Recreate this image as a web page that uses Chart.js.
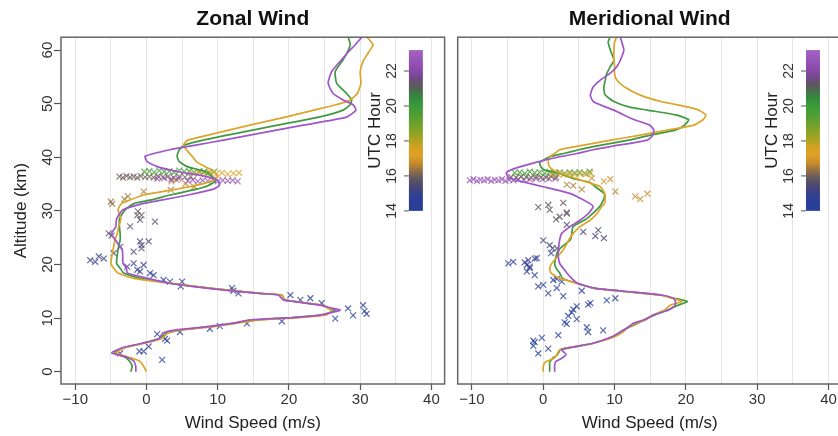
<!DOCTYPE html>
<html>
<head>
<meta charset="utf-8">
<script src="https://cdn.jsdelivr.net/npm/chart.js@4.4.1/dist/chart.umd.min.js"></script>
<style>
  html, body { margin: 0; padding: 0; background: #fff; overflow: hidden; }
  #wrap { position: relative; width: 838px; height: 436px; overflow: hidden; }
  canvas { position: absolute; top: 0; }
  #zonalChart { left: 0; }
  #meridChart { left: 450px; }
</style>
</head>
<body>
<div id="wrap">
  <canvas id="zonalChart" width="450" height="436"></canvas>
  <canvas id="meridChart" width="400" height="436"></canvas>
</div>
<script>
// axis ticks
const xTicks = [-10, -5, 0, 5, 10, 15, 20, 25, 30, 35, 40];
const yTicks = [0, 10, 20, 30, 40, 50, 60];
const hourTicks = [14, 16, 18, 20, 22];

// zonal wind profiles (altitude km -> wind m/s)
const zonalAlt = [0, 1, 2, 2.7, 3.5, 4.5, 5.3, 6.2, 7.2, 7.8, 8.4, 9.0, 9.65, 10.1, 10.6, 11.2, 11.5, 11.8, 12.4, 13.1, 13.4, 14.3, 14.6, 15.2, 15.9, 16.5, 17.4, 18.4, 19.3, 20.2, 22.7, 24.6, 25.8, 27.1, 28.5, 30.2, 31.4, 32.0, 33.0, 34.0, 34.7, 35.6, 36.4, 37.3, 38.2, 39.2, 40.2, 41.4, 42.3, 43.2, 44.5, 46.0, 47.5, 48.8, 49.8, 50.7, 51.9, 53.8, 56.0, 58.2, 59.6, 61.0, 62.5];
const zonalGreen = [-2.2, -2.0, -2.4, -3.0, -4.5, -3.0, -0.5, 1.8, 2.8, 5.0, 9.0, 12.0, 15.5, 20.5, 24.8, 26.0, 26.5, 25.8, 24.6, 20.8, 19.4, 19.0, 16.1, 11.4, 6.7, 3.4, -0.8, -3.2, -3.7, -4.2, -4.0, -3.7, -3.7, -3.8, -3.8, -3.0, -1.7, 0.5, 3.5, 6.9, 8.6, 9.7, 9.2, 8.3, 5.8, 4.6, 4.3, 4.6, 5.4, 8.0, 12.8, 18.4, 24.2, 27.6, 28.6, 28.8, 28.1, 26.7, 26.5, 27.6, 28.2, 28.6, 28.3];
const zonalGold = [0.0, -0.4, -1.0, -2.5, -4.3, -3.0, -0.3, 2.2, 3.0, 5.0, 9.4, 12.5, 16.0, 21.5, 25.3, 25.8, 26.0, 25.5, 24.6, 20.8, 19.4, 19.0, 16.1, 11.6, 6.9, 3.4, -1.8, -4.0, -4.6, -5.0, -4.7, -4.4, -4.1, -3.9, -3.6, -4.0, -3.5, -2.4, -0.3, 4.0, 6.8, 9.2, 10.0, 9.5, 8.3, 7.0, 6.4, 5.6, 5.2, 5.8, 9.8, 14.5, 19.5, 23.5, 26.6, 28.6, 29.6, 30.1, 30.0, 30.5, 31.2, 31.8, 30.9];
const zonalPurple = [-1.5, -1.5, -1.8, -2.8, -4.9, -3.3, -0.6, 1.8, 2.3, 4.2, 8.6, 12.0, 14.5, 20.5, 24.5, 26.5, 27.2, 26.2, 24.4, 20.6, 19.2, 18.5, 15.8, 11.0, 6.4, 3.2, 0.2, -2.7, -2.8, -3.3, -3.4, -4.4, -4.9, -4.3, -4.2, -3.3, -0.4, 2.1, 6.0, 9.3, 10.2, 10.1, 8.4, 4.5, 1.6, 0.1, -0.2, 3.3, 7.1, 10.8, 16.0, 22.0, 28.1, 29.4, 29.0, 27.6, 26.2, 25.5, 26.0, 27.4, 28.3, 29.3, 30.3];

// meridional wind profiles
const meridAlt = [0, 1.0, 1.8, 2.5, 3.2, 4.1, 4.6, 5.3, 6.5, 7.4, 8.1, 9.0, 9.65, 10.6, 11.5, 12.4, 13.1, 13.7, 14.3, 15.0, 15.6, 16.5, 17.4, 18.4, 19.3, 20.2, 21.5, 22.7, 24.6, 25.8, 27.1, 28.3, 29.6, 30.8, 31.4, 32.7, 33.3, 34.5, 35.3, 36.1, 37.0, 37.6, 38.2, 39.0, 40.1, 40.7, 41.4, 42.0, 43.2, 44.0, 45.1, 46.0, 47.0, 47.9, 48.8, 49.4, 50.4, 51.6, 53.1, 54.4, 55.6, 56.9, 58.1, 60.0, 61.5, 62.5];
const meridGreen = [0.9, 0.9, 0.9, 1.3, 2.0, 2.4, 4.2, 7.0, 9.9, 10.8, 11.7, 13.2, 14.1, 15.7, 17.4, 18.9, 20.2, 18.3, 16.4, 11.0, 7.0, 4.7, 2.7, 2.3, 1.8, 1.6, 1.8, 2.1, 3.8, 4.0, 4.2, 5.8, 7.0, 7.9, 8.2, 8.6, 8.5, 7.3, 6.5, 4.0, 2.4, 0.2, -0.3, -0.5, 0.9, 2.9, 5.0, 7.0, 12.0, 14.6, 18.6, 19.8, 20.4, 18.6, 14.6, 12.0, 9.9, 8.7, 8.5, 8.7, 8.9, 9.4, 9.9, 9.4, 9.1, 9.4];
const meridGold = [0.0, 0.0, 0.3, 1.5, 1.9, 2.3, 4.0, 7.0, 9.9, 11.2, 11.7, 13.0, 14.3, 15.5, 17.0, 17.8, 19.5, 18.0, 16.4, 11.0, 7.0, 4.7, 2.3, 1.1, 0.9, 1.2, 2.0, 2.8, 3.6, 4.2, 5.2, 6.6, 7.6, 8.2, 8.6, 8.7, 8.6, 8.0, 6.3, 4.4, 2.6, 1.4, 0.9, 0.7, 0.9, 1.6, 2.3, 4.5, 9.5, 13.0, 17.6, 21.1, 22.4, 22.8, 21.8, 20.2, 16.5, 13.6, 11.4, 10.3, 10.0, 10.0, 9.9, 9.9, 10.0, 10.3];
const meridPurple = [1.6, 1.6, 1.7, 2.6, 3.2, 2.6, 4.3, 7.0, 9.6, 10.8, 11.7, 12.6, 14.1, 15.5, 17.6, 18.5, 18.5, 18.3, 16.6, 11.5, 7.2, 4.8, 4.0, 3.3, 2.8, 2.3, 2.1, 2.1, 2.3, 2.6, 3.8, 5.2, 6.4, 7.0, 6.5, 4.7, 3.6, 0.0, -2.5, -4.7, -5.2, -4.6, -3.3, -1.2, 2.3, 4.7, 7.0, 9.4, 14.6, 15.3, 15.5, 14.9, 12.8, 11.3, 9.9, 8.7, 7.0, 6.6, 7.0, 8.0, 9.3, 10.3, 10.8, 11.3, 11.0, 10.8];

// zonal observations: wind, altitude, UTC hour
const zonalObsWind = [
  2.2, -3.7, -1.0, -0.4, 0.3, 2.9, 2.6, 1.5, 4.7, 8.9, 10.3, 14.1, 19.0, 26.5, 29.0, 30.9, 30.6, 30.4, 28.3, 24.6, 23.0, 21.6, 20.2, 12.9, 12.2, 12.0,
  4.8, 5.0, 3.3, 2.4, 1.0, 0.5, -0.9, -1.3, -1.8, -0.4, -2.7,
  -7.9, -7.2, -6.7, -6.0, -4.6, -3.7, -1.8, -0.7, -0.9, 0.3, -0.7,
  -5.3, -4.9, -2.3, 1.2, -1.3, -0.9, -1.2, -0.7,
  -5.0, -4.8, -3.1, -2.6, -0.4, 3.4, 6.7, 3.5, 4.2, 5.5,
  -3.8, -3.3, -2.8, -2.3, -1.8, -1.3, -0.8, -0.2, 0.4, 1.0, 1.6, 2.3, 3.0, 3.8, 4.6, 5.4, 6.2,
  -0.3, 0.4, 1.1, 1.8, 2.5, 3.2, 3.9, 4.6, 5.3, 6.0, 6.7, 7.4, 8.1, 8.8, 9.5,
  6.6, 7.4, 8.2, 9.0, 9.8, 10.6, 11.4, 12.2, 13.0,
  1.5, 2.5, 3.5, 4.5, 5.8, 6.5, 7.2, 7.9, 8.6, 9.3, 10.0, 10.7, 11.4, 12.1, 12.8
];
const zonalObsAlt = [
  2.2, 3.4, 3.8, 3.8, 4.7, 5.8, 6.1, 7.0, 7.4, 8.0, 8.5, 9.0, 9.4, 9.9, 10.5, 10.8, 11.3, 12.4, 11.8, 12.8, 13.7, 13.4, 14.3, 14.6, 15.1, 15.6,
  15.9, 16.8, 16.8, 17.1, 18.0, 18.4, 18.7, 19.0, 20.2, 19.9, 19.6,
  20.8, 20.5, 21.5, 21.1, 22.1, 23.3, 22.4, 23.0, 24.3, 24.3, 23.6,
  25.8, 25.4, 27.1, 28.0, 29.2, 28.3, 29.9, 29.2,
  31.7, 31.3, 32.2, 32.7, 33.6, 33.9, 34.5, 35.5, 35.8, 35.1,
  36.4, 36.2, 36.5, 36.3, 36.4, 36.2, 36.5, 36.3, 36.4, 36.2, 36.5, 36.3, 36.4, 36.2, 36.4, 36.3, 36.4,
  37.3, 37.4, 37.2, 37.5, 37.3, 37.4, 37.2, 37.5, 37.3, 37.4, 37.2, 37.4, 37.3, 37.2, 37.3,
  36.9, 37.1, 36.8, 37.0, 36.9, 37.1, 36.8, 37.0, 37.1,
  36.0, 36.1, 35.9, 36.0, 35.6, 35.8, 35.5, 35.7, 35.6, 35.8, 35.5, 35.7, 35.6, 35.7, 35.5
];
const zonalObsHour = [
  14.1, 14.2, 14.2, 14.1, 14.2, 14.3, 14.2, 14.3, 14.2, 14.3, 14.2, 14.3, 14.3, 14.2, 14.3, 14.2, 14.3, 14.2, 14.3, 14.2, 14.3, 14.4, 14.3, 14.4, 14.4, 14.4,
  14.5, 14.5, 14.6, 14.6, 14.7, 14.7, 14.8, 14.8, 14.9, 14.9, 14.9,
  15.1, 15.1, 15.2, 15.2, 15.3, 15.3, 15.3, 15.4, 15.4, 15.4, 15.4,
  15.6, 15.6, 15.7, 15.7, 15.8, 15.8, 15.9, 15.9,
  16.3, 16.3, 16.4, 16.4, 16.5, 16.5, 16.6, 16.6, 16.7, 16.7,
  16.0, 16.0, 16.0, 16.0, 16.0, 16.0, 16.0, 16.0, 16.0, 16.0, 16.0, 16.0, 16.0, 16.0, 16.0, 16.0, 16.0,
  19.5, 19.6, 19.7, 19.8, 19.6, 19.5, 19.7, 19.8, 19.6, 19.7, 19.5, 19.8, 19.6, 19.7, 19.6,
  17.2, 17.2, 17.2, 17.2, 17.2, 17.2, 17.2, 17.2, 17.2,
  22.4, 22.4, 22.4, 22.4, 22.6, 22.6, 22.6, 22.6, 22.6, 22.6, 22.6, 22.6, 22.6, 22.6, 22.6
];

// meridional observations: wind, altitude, UTC hour
const meridObsWind = [
  -0.7, 0.7, -1.4, -1.4, -1.2, -0.2, 2.1, 6.3, 8.4, 6.1, 3.3, 3.0, 4.7, 3.5, 4.0, 4.2, 4.7, 6.3, 6.6, 8.9, 10.1, 2.8, 0.7, 5.4, 1.9, -0.7, 0.0, 2.6, 1.4, 1.9,
  -1.2, -2.3, -1.9, -1.9, -4.9, -4.2, -2.1, -1.2, -2.3, -0.9, -2.6,
  1.1, 1.3, 0.9, 0.0, 8.5, 7.3, 7.7, 5.6, 3.3, 1.9,
  2.3, 3.3, -0.7, 0.7, 2.8, 0.9, 3.3, 1.8,
  3.3, 4.2, 5.4, 10.1, 12.9, 13.6, 14.6, 6.8, 8.5, 9.4,
  -10.3, -9.8, -9.3, -8.8, -8.3, -7.8, -7.3, -6.8, -6.3, -5.8, -5.3, -4.8, -4.2, -3.5, -2.7, -1.9, -1.0, -0.1, 0.8, 1.7,
  -4.5, -3.8, -3.1, -2.4, -1.7, -1.0, -0.3, 0.4, 1.1, 1.8,
  -4.0, -3.3, -2.6, -1.9, -1.2, -0.5, 0.2, 0.9, 1.6, 2.3, 3.0, 3.7, 4.4, 5.1, 5.8, 6.5,
  1.2, 2.0, 2.8, 3.6, 4.4, 5.2, 6.0, 6.6
];
const meridObsAlt = [
  3.4, 4.3, 4.8, 5.8, 5.5, 6.3, 6.8, 7.4, 7.7, 8.3, 8.9, 9.2, 9.8, 10.4, 11.0, 11.6, 12.2, 12.5, 12.8, 13.3, 13.7, 14.1, 14.6, 15.1, 15.6, 15.9, 16.2, 16.8, 17.1, 17.3,
  18.0, 18.7, 19.6, 19.3, 20.2, 20.5, 20.8, 21.1, 19.9, 21.2, 20.4,
  22.1, 23.0, 23.6, 24.5, 24.9, 25.3, 26.4, 26.1, 27.4, 23.0,
  28.9, 29.5, 30.7, 31.1, 31.5, 30.2, 29.7, 28.4,
  34.9, 34.7, 34.0, 33.6, 32.7, 32.2, 33.2, 36.1, 35.5, 35.9,
  35.7, 35.9, 35.6, 35.8, 35.7, 35.9, 35.6, 35.8, 35.7, 35.9, 35.6, 35.8, 35.7, 35.9, 35.8, 35.9, 36.0, 35.9, 36.0, 36.0,
  36.3, 36.2, 36.4, 36.3, 36.2, 36.4, 36.3, 36.2, 36.4, 36.3,
  37.1, 37.2, 37.0, 37.3, 37.1, 37.2, 37.0, 37.3, 37.1, 37.2, 37.0, 37.2, 37.1, 37.2, 37.0, 37.3,
  36.8, 36.9, 36.7, 36.9, 36.8, 36.9, 36.8, 37.0
];
const meridObsHour = [
  14.1, 14.2, 14.1, 14.2, 14.2, 14.3, 14.2, 14.3, 14.2, 14.3, 14.2, 14.3, 14.3, 14.2, 14.3, 14.2, 14.3, 14.2, 14.3, 14.2, 14.3, 14.4, 14.3, 14.4, 14.4, 14.4, 14.5, 14.5, 14.5, 14.5,
  14.6, 14.6, 14.7, 14.7, 14.8, 14.8, 14.8, 14.9, 14.9, 14.9, 14.9,
  15.1, 15.2, 15.2, 15.3, 15.3, 15.3, 15.4, 15.4, 15.5, 15.5,
  15.7, 15.7, 15.8, 15.8, 15.9, 15.9, 15.9, 15.9,
  16.5, 16.5, 16.6, 16.6, 16.7, 16.7, 16.8, 16.8, 16.9, 16.9,
  22.7, 22.7, 22.7, 22.7, 22.7, 22.7, 22.7, 22.7, 22.7, 22.7, 22.7, 22.7, 22.7, 22.7, 22.7, 22.7, 22.7, 22.7, 22.7, 22.7,
  16.0, 16.0, 16.0, 16.0, 16.0, 16.0, 16.0, 16.0, 16.0, 16.0,
  19.7, 19.6, 19.8, 19.7, 19.6, 19.8, 19.7, 19.6, 19.8, 19.7, 19.6, 19.8, 19.7, 19.6, 19.8, 19.7,
  17.3, 17.3, 17.3, 17.3, 17.3, 17.3, 17.3, 17.3
];

const FONT = '"Liberation Sans", Arial, Helvetica, sans-serif';
const X_MIN = -12.0, X_MAX = 41.85, Y_MIN = -2.3, Y_MAX = 62.4;

// colour scale for UTC hour (blue -> gold -> green -> purple)
const hourStops = [
  [14.0, '#263f9c'], [14.8, '#2f3f95'], [15.3, '#45447a'], [15.8, '#5c5563'],
  [16.2, '#86694c'], [16.7, '#c48a2c'], [17.2, '#e0a126'], [17.7, '#cfa222'],
  [18.1, '#a9a322'], [18.7, '#7fa228'], [19.4, '#52a032'], [20.0, '#3b9a3a'],
  [20.5, '#318a3c'], [20.9, '#4c6a4e'], [21.2, '#5c5a5c'], [21.6, '#72498a'],
  [22.1, '#8b4aab'], [23.2, '#a463c4']
];

function hexRgb(h) {
  return [parseInt(h.slice(1, 3), 16), parseInt(h.slice(3, 5), 16), parseInt(h.slice(5, 7), 16)];
}

function hourColor(h, alpha) {
  let i = 0;
  while (i < hourStops.length - 2 && h > hourStops[i + 1][0]) i++;
  const [h0, c0] = hourStops[i], [h1, c1] = hourStops[i + 1];
  const t = Math.min(1, Math.max(0, (h - h0) / (h1 - h0)));
  const a = hexRgb(c0), b = hexRgb(c1);
  const rgb = a.map((v, k) => Math.round(v + (b[k] - v) * t));
  return `rgba(${rgb[0]}, ${rgb[1]}, ${rgb[2]}, ${alpha})`;
}

// box around the plot + colour bar
const panelFrame = {
  id: 'panelFrame',
  afterDatasetsDraw(chart, args, o) {
    const { ctx, scales: { x, y } } = chart;
    const left = x.getPixelForValue(o.barFrom), right = x.getPixelForValue(o.barTo);
    const top = y.getPixelForValue(o.barTop), bottom = y.getPixelForValue(o.barBottom);
    const hourPx = h => bottom - (h - o.hourMin) / (o.hourMax - o.hourMin) * (bottom - top);

    ctx.save();
    const grad = ctx.createLinearGradient(0, bottom, 0, top);
    hourStops.forEach(([h, c]) => {
      grad.addColorStop(Math.min(1, Math.max(0, (h - o.hourMin) / (o.hourMax - o.hourMin))), c);
    });
    ctx.fillStyle = grad;
    ctx.fillRect(left, top, right - left, bottom - top);

    ctx.strokeStyle = '#555';
    ctx.lineWidth = 1;
    ctx.fillStyle = '#333';
    ctx.font = `14px ${FONT}`;
    ctx.textAlign = 'center';
    ctx.textBaseline = 'middle';
    hourTicks.forEach(h => {
      const py = hourPx(h);
      ctx.beginPath();
      ctx.moveTo(left - 5, py);
      ctx.lineTo(left, py);
      ctx.stroke();
      ctx.save();
      ctx.translate(left - 17, py);
      ctx.rotate(-Math.PI / 2);
      ctx.fillText(String(h), 0, 0);
      ctx.restore();
    });
    ctx.save();
    ctx.translate(left - 34, (top + bottom) / 2);
    ctx.rotate(-Math.PI / 2);
    ctx.font = `17px ${FONT}`;
    ctx.fillStyle = '#222';
    ctx.fillText('UTC Hour', 0, 0);
    ctx.restore();
    ctx.restore();
  },
  afterDraw(chart) {
    const { ctx, chartArea: a } = chart;
    ctx.save();
    ctx.strokeStyle = '#666';
    ctx.lineWidth = 1.5;
    ctx.strokeRect(a.left, a.top, a.right - a.left, a.bottom - a.top);
    ctx.restore();
  }
};

function profile(label, alt, wind, color, order) {
  return {
    label: label,
    data: alt.map((a, i) => ({ x: wind[i], y: a })),
    showLine: true,
    borderColor: color,
    borderWidth: 1.7,
    pointRadius: 0,
    tension: 0.18,
    fill: false,
    order: order
  };
}

function observations(wind, alt, hour) {
  return {
    label: 'obs',
    data: wind.map((w, i) => ({ x: w, y: alt[i] })),
    showLine: false,
    pointStyle: 'crossRot',
    pointRadius: 4.2,
    pointBorderWidth: 1.2,
    pointBorderColor: hour.map(h => hourColor(h, 0.78)),
    pointBackgroundColor: 'rgba(0,0,0,0)',
    order: 10
  };
}

function xScale() {
  return {
    type: 'linear',
    min: X_MIN,
    max: X_MAX,
    afterBuildTicks: s => { s.ticks = xTicks.map(v => ({ value: v })); },
    afterFit: s => { s.height = 52; },
    border: { display: false },
    grid: {
      color: '#e6e6e6',
      lineWidth: 1,
      tickLength: 6,
      tickWidth: 1.2,
      tickColor: c => (c.tick && c.tick.value % 10 === 0) ? '#555' : 'rgba(0,0,0,0)'
    },
    ticks: {
      autoSkip: false,
      maxRotation: 0,
      padding: 1,
      color: '#333',
      font: { family: FONT, size: 15 },
      callback: v => v % 10 === 0 ? String(v).replace('-', '\u2212') : ''
    },
    title: {
      display: true,
      text: 'Wind Speed (m/s)',
      color: '#222',
      font: { family: FONT, size: 17 },
      padding: { top: 0, bottom: 2 }
    }
  };
}

function titleOpts(text) {
  return {
    display: true,
    text: text,
    fullSize: false,
    color: '#111',
    font: { family: FONT, size: 21, weight: 'bold' },
    padding: { top: 7, bottom: 5 }
  };
}

const barOpts = { barFrom: 36.84, barTo: 38.8, barBottom: 30, barTop: 60, hourMin: 14.0, hourMax: 23.2 };

new Chart(document.getElementById('zonalChart'), {
  type: 'scatter',
  data: {
    datasets: [
      observations(zonalObsWind, zonalObsAlt, zonalObsHour),
      profile('Green', zonalAlt, zonalGreen, '#3f9a3f', 3),
      profile('Gold', zonalAlt, zonalGold, '#dca52a', 2),
      profile('Purple', zonalAlt, zonalPurple, '#a055c9', 1)
    ]
  },
  options: {
    responsive: false,
    animation: false,
    layout: { padding: { left: 0, right: 5, top: 0, bottom: 0 } },
    plugins: {
      legend: { display: false },
      tooltip: { enabled: false },
      title: titleOpts('Zonal Wind'),
      panelFrame: barOpts
    },
    scales: {
      x: xScale(),
      y: {
        type: 'linear',
        min: Y_MIN,
        max: Y_MAX,
        afterBuildTicks: s => { s.ticks = yTicks.map(v => ({ value: v })); },
        afterFit: s => { s.width = 61; },
        border: { display: false },
        grid: { drawOnChartArea: false, tickLength: 7, tickWidth: 1.2, tickColor: '#555' },
        ticks: {
          minRotation: 90,
          maxRotation: 90,
          crossAlign: 'center',
          padding: -2,
          color: '#333',
          font: { family: FONT, size: 15 }
        },
        title: {
          display: true,
          text: 'Altitude (km)',
          color: '#222',
          font: { family: FONT, size: 17 },
          padding: { top: 11, bottom: 0 }
        }
      }
    }
  },
  plugins: [panelFrame]
});

new Chart(document.getElementById('meridChart'), {
  type: 'scatter',
  data: {
    datasets: [
      observations(meridObsWind, meridObsAlt, meridObsHour),
      profile('Green', meridAlt, meridGreen, '#3f9a3f', 3),
      profile('Gold', meridAlt, meridGold, '#dca52a', 2),
      profile('Purple', meridAlt, meridPurple, '#a055c9', 1)
    ]
  },
  options: {
    responsive: false,
    animation: false,
    layout: { padding: { left: 7.7, right: 8.3, top: 0, bottom: 0 } },
    plugins: {
      legend: { display: false },
      tooltip: { enabled: false },
      title: titleOpts('Meridional Wind'),
      panelFrame: barOpts
    },
    scales: {
      x: xScale(),
      y: { type: 'linear', min: Y_MIN, max: Y_MAX, display: false }
    }
  },
  plugins: [panelFrame]
});
</script>
</body>
</html>
